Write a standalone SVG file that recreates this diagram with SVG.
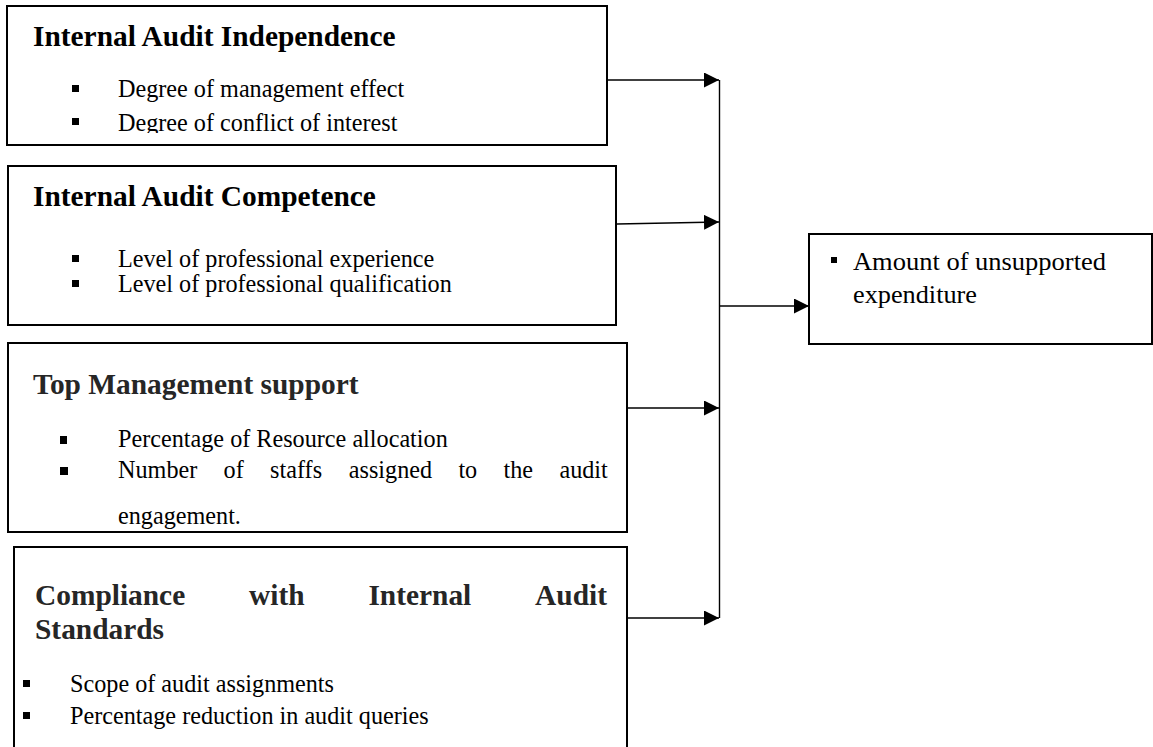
<svg xmlns="http://www.w3.org/2000/svg" width="1153" height="747" viewBox="0 0 1153 747">
<defs>
<style>
.box{fill:#fff;stroke:#000;stroke-width:2}
.t{font-family:"Liberation Serif","Times New Roman",serif;font-weight:bold;font-size:29.4px;fill:#000}
.t2{fill:#262626}
.i{font-family:"Liberation Serif","Times New Roman",serif;font-size:24.2px;fill:#000}
.b{fill:#000}
.ln{fill:none;stroke:#000;stroke-width:1.4}
</style>
<marker id="ah" viewBox="0 0 15 15" refX="15" refY="7.5" markerWidth="15" markerHeight="15" markerUnits="userSpaceOnUse" orient="auto">
<path d="M0,0 L15,7.5 L0,15 Z" fill="#000"/>
</marker>
<clipPath id="c1"><rect x="0" y="0" width="1153" height="133"/></clipPath>
</defs>
<rect width="1153" height="747" fill="#fff"/>

<g id="independence">
<rect class="box" x="7" y="6" width="600" height="139"/>
<text class="t" x="33" y="46">Internal Audit Independence</text>
<rect class="b" x="72" y="85" width="7" height="7"/>
<text class="i" x="118" y="97">Degree of management effect</text>
<rect class="b" x="72" y="118" width="7" height="7"/>
<text class="i" x="118" y="131" clip-path="url(#c1)">Degree of conflict of interest</text>
</g>

<g id="competence">
<rect class="box" x="8" y="166" width="608" height="159"/>
<text class="t" x="33" y="206">Internal Audit Competence</text>
<rect class="b" x="72" y="255" width="7" height="7"/>
<text class="i" x="118" y="267">Level of professional experience</text>
<rect class="b" x="72" y="280" width="7" height="7"/>
<text class="i" x="118" y="292">Level of professional qualification</text>
</g>

<g id="management">
<rect class="box" x="8" y="343" width="619" height="189"/>
<text class="t t2" x="33" y="394">Top Management support</text>
<rect class="b" x="60" y="436" width="7" height="8"/>
<text class="i" x="118" y="447">Percentage of Resource allocation</text>
<rect class="b" x="60" y="467" width="8" height="8"/>
<text class="i" y="478"><tspan x="118">Number</tspan><tspan x="223.6">of</tspan><tspan x="270.1">staffs</tspan><tspan x="348.8">assigned</tspan><tspan x="458.4">to</tspan><tspan x="503.5">the</tspan><tspan x="559.4">audit</tspan></text>
<text class="i" x="118" y="524">engagement.</text>
</g>

<g id="compliance">
<rect class="box" x="14" y="547" width="613" height="220"/>
<text class="t t2" y="605"><tspan x="35">Compliance</tspan><tspan x="249.1">with</tspan><tspan x="368.4">Internal</tspan><tspan x="535.1">Audit</tspan></text>
<text class="t t2" x="35" y="639">Standards</text>
<rect class="b" x="23" y="680" width="7" height="7"/>
<text class="i" x="70" y="692">Scope of audit assignments</text>
<rect class="b" x="23" y="712" width="7" height="7"/>
<text class="i" x="70" y="724">Percentage reduction in audit queries</text>
</g>

<g id="outcome">
<rect class="box" x="809" y="234" width="343" height="110"/>
<rect class="b" x="831" y="257" width="6" height="6"/>
<text class="i" x="853" y="270" textLength="253" lengthAdjust="spacingAndGlyphs">Amount of unsupported</text>
<text class="i" x="853" y="303" textLength="124" lengthAdjust="spacingAndGlyphs">expenditure</text>
</g>

<g id="connectors">
<line class="ln" x1="607" y1="80" x2="719" y2="80" marker-end="url(#ah)"/>
<line class="ln" x1="617" y1="224" x2="719" y2="222" marker-end="url(#ah)"/>
<line class="ln" x1="628" y1="408" x2="719" y2="408" marker-end="url(#ah)"/>
<line class="ln" x1="628" y1="618" x2="719" y2="618" marker-end="url(#ah)"/>
<line class="ln" x1="719.5" y1="80" x2="719.5" y2="618"/>
<line class="ln" x1="719" y1="306" x2="809" y2="306" marker-end="url(#ah)"/>
</g>
</svg>
